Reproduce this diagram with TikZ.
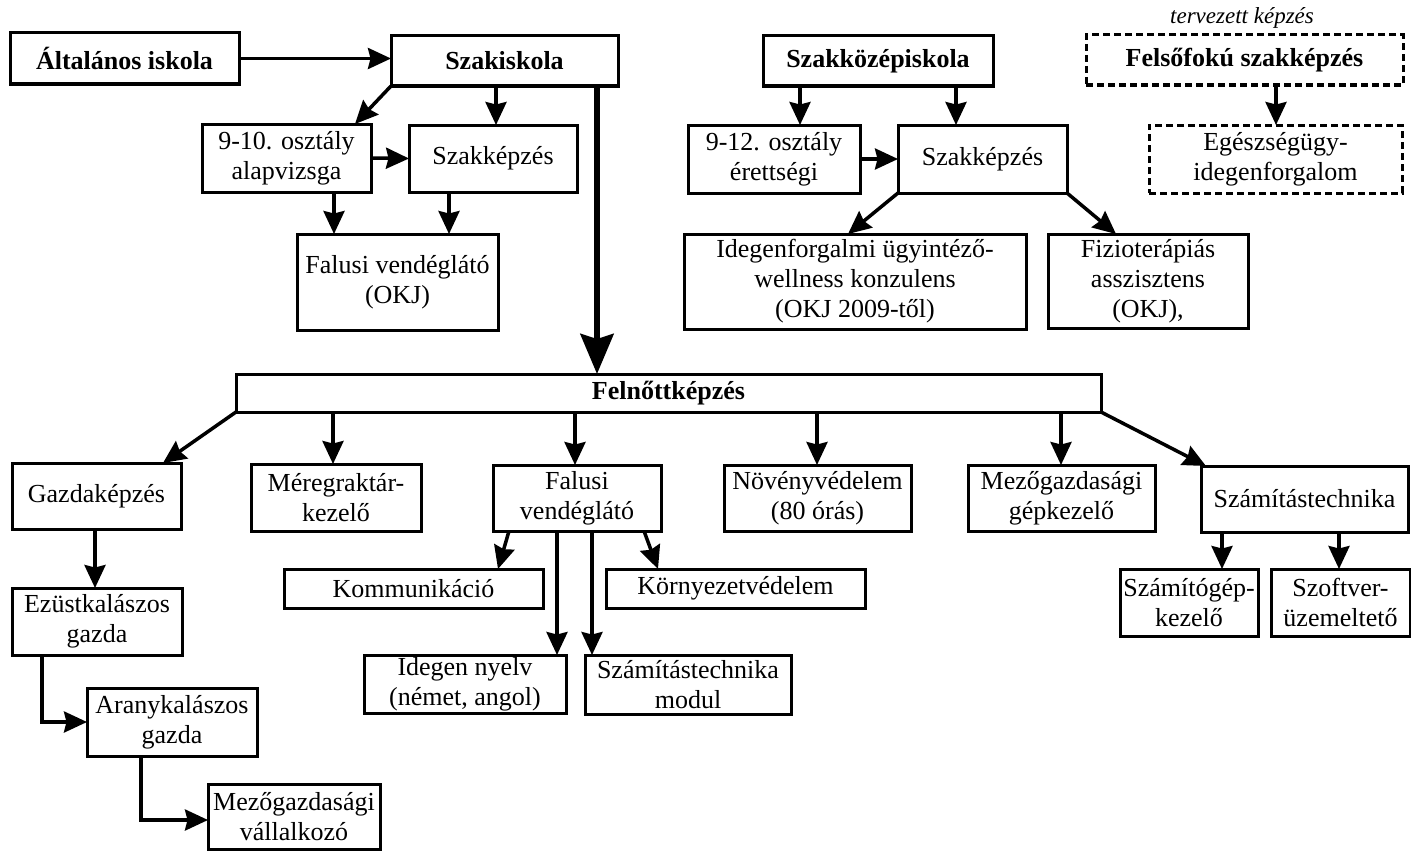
\documentclass[tikz,border=0pt]{standalone}
\usepackage{fontspec}
\setmainfont{Liberation Serif}
\usetikzlibrary{arrows.meta,calc}
\begin{document}
\begin{tikzpicture}[x=1pt,y=-1pt,
  box/.style={draw,line width=3pt,inner sep=0pt,outer sep=0pt,align=center,
    font=\fontsize{26}{30}\selectfont},
  titlebox/.style={box,font=\fontsize{26}{30}\selectfont\bfseries},
  planned/.style={dash pattern=on 7pt off 4pt},
  arr/.style={line width=3.5pt,line join=miter,-{Stealth[length=23pt,width=21pt,inset=2.5pt]}},
  bigarr/.style={line width=6pt,-{Stealth[length=40pt,width=33pt,inset=5pt]}}]
\useasboundingbox (0,0) rectangle (1411,851);

% --- school track ---
\node[titlebox,minimum width=229pt,minimum height=51pt] (alt) at (124.5,58.5) {Általános iskola};
\node[titlebox,minimum width=227pt,minimum height=50pt] (szi) at (504.5,61) {Szakiskola};
\node[box,minimum width=169pt,minimum height=68pt] (o910) at (286.5,158) {9-10. osztály\\alapvizsga};
\node[box,minimum width=168pt,minimum height=67pt] (szk1) at (493,158.5) {Szakképzés};
\node[box,minimum width=201pt,minimum height=96pt] (fvo) at (397.5,282) {Falusi vendéglátó\\(OKJ)};

% --- secondary vocational track ---
\node[titlebox,minimum width=230pt,minimum height=50pt] (szkp) at (878,61) {Szakközépiskola};
\node[box,minimum width=172pt,minimum height=68pt] (o912) at (774,159) {9-12. osztály\\érettségi};
\node[box,minimum width=169pt,minimum height=68pt] (szk2) at (982.5,159) {Szakképzés};
\node[box,minimum width=342pt,minimum height=95pt] (ide) at (855,281.5) {Idegenforgalmi ügyintéző-\\wellness konzulens\\(OKJ 2009-től)};
\node[box,minimum width=200pt,minimum height=94pt] (fiz) at (1148,281) {Fizioterápiás\\asszisztens\\(OKJ),};

% --- planned higher-level training ---
\node[font=\fontsize{23}{26}\selectfont\itshape] (terv) at (1242,18) {tervezett képzés};
\node[titlebox,planned,minimum width=317pt,minimum height=50pt] (fel) at (1244.5,60) {Felsőfokú szakképzés};
\node[box,planned,minimum width=253pt,minimum height=68pt] (egs) at (1275.5,159) {Egészségügy-\\idegenforgalom};

% --- adult education ---
\node[titlebox,minimum width=865pt,minimum height=38pt] (fk) at (668.5,393) {Felnőttképzés};
\node[box,minimum width=169pt,minimum height=66pt] (gaz) at (96.5,496) {Gazdaképzés};
\node[box,minimum width=170pt,minimum height=67pt] (mer) at (336,497.5) {Méregraktár-\\kezelő};
\node[box,minimum width=168pt,minimum height=66pt] (fv) at (577,498) {Falusi\\vendéglátó};
\node[box,minimum width=187pt,minimum height=66pt] (nov) at (817.5,498) {Növényvédelem\\(80 órás)};
\node[box,minimum width=187pt,minimum height=66pt] (mgk) at (1061.5,498) {Mezőgazdasági\\gépkezelő};
\node[box,minimum width=207pt,minimum height=66pt] (szt) at (1304.5,499) {Számítástechnika};
\node[box,minimum width=259pt,minimum height=39pt] (kom) at (413.5,588.5) {Kommunikáció};
\node[box,minimum width=259pt,minimum height=39pt] (kor) at (735.5,588.5) {Környezetvédelem};
\node[box,minimum width=202pt,minimum height=58pt] (nyelv) at (465,684) {Idegen nyelv\\(német, angol)};
\node[box,minimum width=206pt,minimum height=59pt] (szm) at (688,684.5) {Számítástechnika\\modul};
\node[box,minimum width=170pt,minimum height=67pt] (ezu) at (97,621.5) {Ezüstkalászos\\gazda};
\node[box,minimum width=170pt,minimum height=68pt] (ara) at (172,722) {Aranykalászos\\gazda};
\node[box,minimum width=172pt,minimum height=65pt] (mev) at (294,816.5) {Mezőgazdasági\\vállalkozó};
\node[box,minimum width=138pt,minimum height=67pt] (szg) at (1189,602.5) {Számítógép-\\kezelő};
\node[box,minimum width=139pt,minimum height=67pt] (szo) at (1340.5,602.5) {Szoftver-\\üzemeltető};

% --- connectors, upper part ---
\draw[arr] (alt.east) -- (szi.west |- alt.east);
\draw[arr] (szi.south west) -- ($(o910.north east)+(-16,0)$);
\draw[arr] ($(szi.south west)+(105,0)$) coordinate (a1) -- (a1 |- szk1.north);
\draw[arr] (o910.east) -- (szk1.west);
\draw[arr] ($(o910.south west)+(132,0)$) coordinate (a2) -- (a2 |- fvo.north);
\draw[arr] ($(szk1.south west)+(40,0)$) coordinate (a3) -- (a3 |- fvo.north);
\draw[bigarr] ($(szi.south west)+(206,0)$) coordinate (a4) -- (a4 |- fk.north);

\draw[arr] ($(szkp.south west)+(37,0)$) coordinate (b1) -- (b1 |- o912.north);
\draw[arr] ($(szkp.south west)+(193,0)$) coordinate (b2) -- (b2 |- szk2.north);
\draw[arr] (o912.east) -- (szk2.west);
\draw[arr] (szk2.south west) -- ($(ide.north west)+(164,0)$);
\draw[arr] (szk2.south east) -- ($(fiz.north west)+(68,0)$);

\draw[arr] ($(fel.south west)+(190,0)$) coordinate (c1) -- (c1 |- egs.north);

% --- connectors, adult education ---
\draw[arr] (fk.south west) -- ($(gaz.north west)+(151,0)$);
\draw[arr] ($(fk.south west)+(97,0)$) coordinate (d1) -- (d1 |- mer.north);
\draw[arr] ($(fk.south west)+(339,0)$) coordinate (d2) -- (d2 |- fv.north);
\draw[arr] ($(fk.south west)+(581,0)$) coordinate (d3) -- (d3 |- nov.north);
\draw[arr] ($(fk.south west)+(825,0)$) coordinate (d4) -- (d4 |- mgk.north);
\draw[arr] (fk.south east) -- ($(szt.north west)+(5,0)$);

\draw[arr] ($(gaz.south west)+(83,0)$) coordinate (e1) -- (e1 |- ezu.north);
\draw[arr] ($(ezu.south west)+(30,0)$) |- (ara.west);
\draw[arr] ($(ara.south west)+(54,0)$) |- ($(mev.west)+(0,3.5)$);

\draw[arr] ($(fv.south west)+(16,0)$) -- ($(kom.north west)+(214,0)$);
\draw[arr] ($(fv.south west)+(151,0)$) -- ($(kor.north west)+(52,0)$);
\draw[arr] ($(fv.south west)+(64,0)$) coordinate (f1) -- (f1 |- nyelv.north);
\draw[arr] ($(fv.south west)+(99,0)$) coordinate (f2) -- (f2 |- szm.north);

\draw[arr] ($(szt.south west)+(21,0)$) coordinate (g1) -- (g1 |- szg.north);
\draw[arr] ($(szt.south west)+(138,0)$) coordinate (g2) -- (g2 |- szo.north);
\end{tikzpicture}
\end{document}
